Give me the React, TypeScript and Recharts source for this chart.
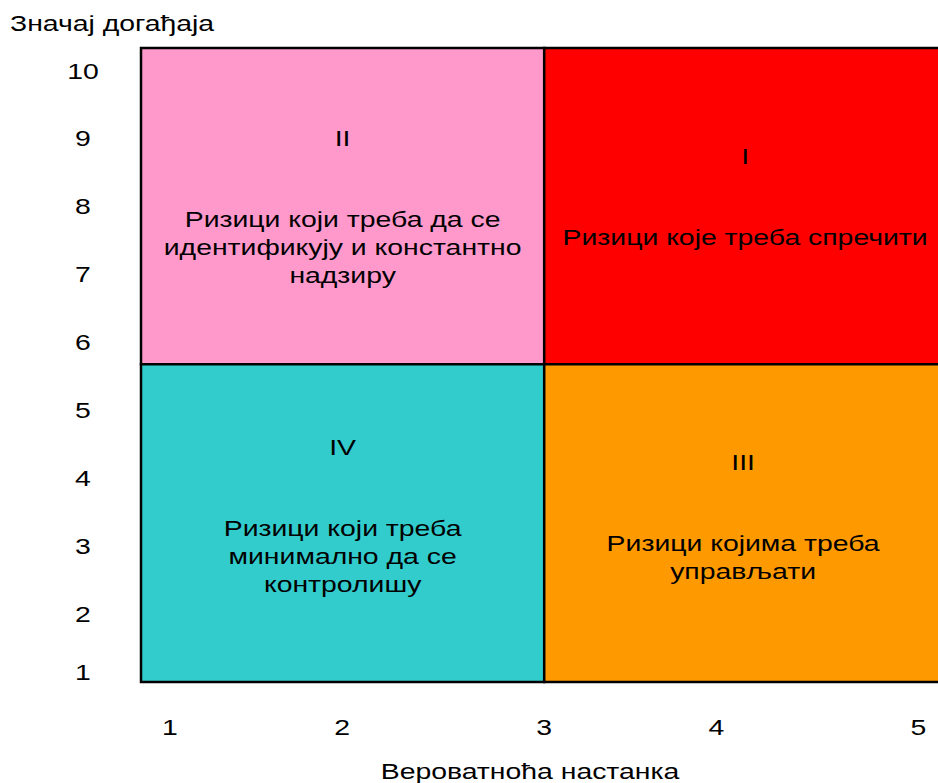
import React from 'react';
import { ComposedChart, XAxis, YAxis, ReferenceArea } from 'recharts';

// Axis ranges and the split between the four risk quadrants
const xRange = [0.845, 5.126];
const yRange = [1, 10.335];
const xSplit = 3;
const ySplit = 5.68;

// Tick labels and where they sit on each axis
const xTickLabels = ['1', '2', '3', '4', '5'];
const xTickValues = [1, 1.92, 3, 3.92, 5];
const yTickLabels = ['1', '2', '3', '4', '5', '6', '7', '8', '9', '10'];
const yTickValues = [1.14, 2, 3, 4, 5, 6, 7, 8, 9, 10];

const xAxisTitle = 'Вероватноћа настанка';
const yAxisTitle = 'Значај догађаја';

// Quadrants: numeral and text lines
const quadrantIds = ['II', 'I', 'IV', 'III'];
const quadrantX = [
  [xRange[0], xSplit],
  [xSplit, xRange[1]],
  [xRange[0], xSplit],
  [xSplit, xRange[1]],
];
const quadrantY = [
  [ySplit, yRange[1]],
  [ySplit, yRange[1]],
  [yRange[0], ySplit],
  [yRange[0], ySplit],
];
const quadrantTexts = [
  ['Ризици који треба да се', 'идентификују и константно', 'надзиру'],
  ['Ризици које треба спречити'],
  ['Ризици који треба', 'минимално да се', 'контролишу'],
  ['Ризици којима треба', 'управљати'],
];

const FONT = '"Liberation Sans", Arial, Helvetica, sans-serif';
const STRETCH = 1.29;

const quadrantStyle: Record<string, { fill: string; top: number; dx: number }> = {
  II: { fill: '#FF99CC', top: 90.5, dx: 0 },
  I: { fill: '#FF0000', top: 108.5, dx: 2 },
  IV: { fill: '#33CCCC', top: 83.5, dx: 0 },
  III: { fill: '#FF9900', top: 98.5, dx: 0 },
};

function StretchText({
  x,
  y,
  anchor = 'middle',
  children,
}: {
  x: number;
  y: number;
  anchor?: 'start' | 'middle' | 'end';
  children: React.ReactNode;
}) {
  return (
    <text
      transform={`translate(${x},${y}) scale(${STRETCH},1)`}
      textAnchor={anchor}
      dominantBaseline="central"
      fontSize={22}
      fontFamily={FONT}
      fill="#000"
    >
      {children}
    </text>
  );
}

function QuadrantLabel({ viewBox, id, lines }: any) {
  if (!viewBox) return null;
  const style = quadrantStyle[id];
  const cx = viewBox.x + viewBox.width / 2 + style.dx;
  const top = viewBox.y + style.top;
  return (
    <g>
      <StretchText x={cx} y={top}>
        {id}
      </StretchText>
      {lines.map((line: string, i: number) => (
        <StretchText key={i} x={cx} y={top + 81 + i * 27.7}>
          {line}
        </StretchText>
      ))}
    </g>
  );
}

export default function App() {
  return (
    <div
      style={{
        position: 'absolute',
        left: 0,
        top: 0,
        width: 938,
        height: 783,
        overflow: 'hidden',
        background: '#fff',
      }}
    >
      <ComposedChart
        width={942}
        height={783}
        margin={{ top: 48, right: 0, left: 0, bottom: 0 }}
      >
        <XAxis
          type="number"
          dataKey="x"
          domain={xRange}
          allowDataOverflow
          ticks={xTickValues}
          interval={0}
          height={101}
          axisLine={false}
          tickLine={false}
          tick={(p: any) => {
            const idx = xTickValues.indexOf(p.payload.value);
            return (
              <StretchText x={p.x} y={727.5}>
                {xTickLabels[idx]}
              </StretchText>
            );
          }}
          label={{
            content: () => (
              <StretchText x={530} y={771}>
                {xAxisTitle}
              </StretchText>
            ),
          }}
        />
        <YAxis
          type="number"
          dataKey="y"
          domain={yRange}
          allowDataOverflow
          ticks={yTickValues}
          interval={0}
          width={141}
          axisLine={false}
          tickLine={false}
          tick={(p: any) => {
            const idx = yTickValues.indexOf(p.payload.value);
            return (
              <StretchText x={83} y={p.y}>
                {yTickLabels[idx]}
              </StretchText>
            );
          }}
          label={{
            content: () => (
              <StretchText x={10} y={23} anchor="start">
                {yAxisTitle}
              </StretchText>
            ),
          }}
        />
        {quadrantIds.map((id, i) => (
          <ReferenceArea
            key={id}
            x1={quadrantX[i][0]}
            x2={quadrantX[i][1]}
            y1={quadrantY[i][0]}
            y2={quadrantY[i][1]}
            fill={quadrantStyle[id].fill}
            fillOpacity={1}
            stroke="#000"
            strokeWidth={2.5}
            ifOverflow="visible"
            label={(props: any) => (
              <QuadrantLabel viewBox={props.viewBox} id={id} lines={quadrantTexts[i]} />
            )}
          />
        ))}
      </ComposedChart>
    </div>
  );
}
